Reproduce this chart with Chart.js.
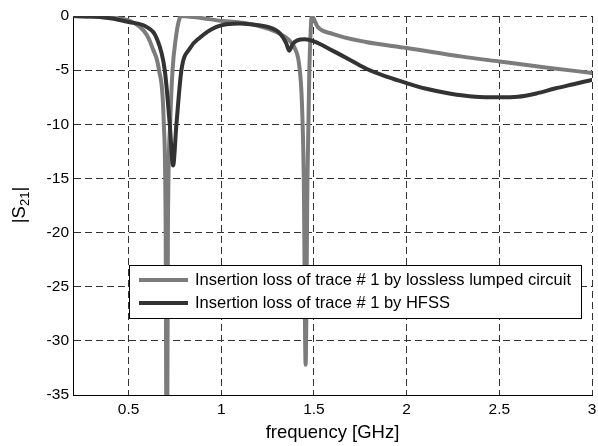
<!DOCTYPE html>
<html>
<head>
<meta charset="utf-8">
<script src="https://cdn.jsdelivr.net/npm/chart.js@4.4.1/dist/chart.umd.min.js"></script>
<style>
  html, body { margin: 0; padding: 0; background: #fff; }
  canvas { display: block; }
</style>
</head>
<body>
<canvas id="s21Chart" width="598" height="446"></canvas>
<script>
// Insertion loss (frequency in GHz, |S21| in dB)
const freqLumped = [0.2, 0.3, 0.4, 0.5, 0.56, 0.6, 0.63, 0.664, 0.69, 0.7, 0.706, 0.712, 0.724, 0.737, 0.755, 0.77, 0.785,
    0.85, 0.9, 1.0, 1.1, 1.2, 1.3, 1.35, 1.38, 1.4, 1.42, 1.435, 1.445, 1.455, 1.465, 1.475, 1.482, 1.488,
    1.52, 1.6, 1.78, 2.0, 2.3, 2.5, 2.75, 3.0];
const s21Lumped = [0, -0.05, -0.15, -0.4, -1, -1.8, -3, -5, -10, -20, -50, -20, -10, -5, -2, -0.5, 0,
    -0.1, -0.2, -0.45, -0.6, -0.9, -1.5, -2, -2.5, -3.1, -4.5, -8, -15, -32.2, -15, -5, -1.5, 0,
    -1.0, -1.65, -2.4, -2.95, -3.75, -4.2, -4.75, -5.26];

const freqHfss = [0.2, 0.3, 0.4, 0.5, 0.596, 0.65, 0.695, 0.722, 0.74, 0.758, 0.785, 0.83, 0.884, 0.974,
    1.1, 1.2, 1.25, 1.316, 1.35, 1.366, 1.385, 1.41, 1.45, 1.5, 1.6, 1.7, 1.78, 1.9,
    2.0, 2.1, 2.23, 2.37, 2.5, 2.6, 2.7, 2.8, 2.9, 3.0];
const s21Hfss = [0, -0.05, -0.2, -0.55, -1, -2, -5, -10, -13.8, -10, -5, -3, -2, -1,
    -0.7, -0.85, -1.0, -1.6, -2.5, -3.2, -2.6, -2.25, -2.15, -2.35, -3.2, -4.1, -4.85, -5.65,
    -6.2, -6.7, -7.15, -7.45, -7.5, -7.45, -7.15, -6.7, -6.3, -5.9];

const xTicks = [0.5, 1, 1.5, 2, 2.5, 3];
const yTicks = [0, -5, -10, -15, -20, -25, -30, -35];

const seriesLabels = [
    'Insertion loss of trace # 1 by lossless lumped circuit',
    'Insertion loss of trace # 1 by HFSS'
];

const FONT = 'Arial, "Liberation Sans", sans-serif';

function toPoints(xs, ys) {
    return xs.map((x, i) => ({ x: x, y: ys[i] }));
}

// axis titles (with subscript) and the boxed legend inside the plot
const decorations = {
    id: 'decorations',
    afterDraw(chart) {
        const ctx = chart.ctx;
        const area = chart.chartArea;
        ctx.save();
        ctx.fillStyle = '#000';

        // x title
        ctx.font = '18.5px ' + FONT;
        ctx.textAlign = 'center';
        ctx.textBaseline = 'middle';
        ctx.fillText('frequency [GHz]', (area.left + area.right) / 2, 433);

        // y title |S21|
        ctx.save();
        ctx.translate(18, 205);
        ctx.rotate(-Math.PI / 2);
        ctx.textBaseline = 'alphabetic';
        ctx.textAlign = 'left';
        const big = '18.5px ' + FONT, small = '13px ' + FONT;
        ctx.font = big;
        const w1 = ctx.measureText('|S').width;
        const w3 = ctx.measureText('|').width;
        ctx.font = small;
        const w2 = ctx.measureText('21').width;
        let x = -(w1 + w2 + w3) / 2;
        ctx.font = big;
        ctx.fillText('|S', x, 7);
        x += w1;
        ctx.font = small;
        ctx.fillText('21', x, 11);
        x += w2;
        ctx.font = big;
        ctx.fillText('|', x, 7);
        ctx.restore();

        // legend
        const lx = 129, ly = 265, lw = 452, lh = 53;
        ctx.fillStyle = '#fff';
        ctx.fillRect(lx, ly, lw, lh);
        ctx.strokeStyle = '#000';
        ctx.lineWidth = 1;
        ctx.strokeRect(lx + 0.5, ly + 0.5, lw, lh);
        ctx.font = '16.5px ' + FONT;
        ctx.textAlign = 'left';
        ctx.textBaseline = 'middle';
        chart.data.datasets.forEach((ds, i) => {
            const y = 280 + i * 23;
            ctx.strokeStyle = ds.borderColor;
            ctx.lineWidth = 4;
            ctx.beginPath();
            ctx.moveTo(139, y);
            ctx.lineTo(188, y);
            ctx.stroke();
            ctx.fillStyle = '#000';
            ctx.fillText(ds.label, 195, y);
        });
        ctx.restore();
    }
};

new Chart(document.getElementById('s21Chart'), {
    type: 'line',
    data: {
        datasets: [{
            label: seriesLabels[0],
            data: toPoints(freqLumped, s21Lumped),
            borderColor: '#7c7c7c',
            borderWidth: 4,
            pointRadius: 0,
            cubicInterpolationMode: 'monotone',
            borderCapStyle: 'round',
            borderJoinStyle: 'round',
            clip: 0,
            order: 2
        }, {
            label: seriesLabels[1],
            data: toPoints(freqHfss, s21Hfss),
            borderColor: '#333333',
            borderWidth: 4,
            pointRadius: 0,
            cubicInterpolationMode: 'monotone',
            borderCapStyle: 'round',
            borderJoinStyle: 'round',
            clip: 0,
            order: 1
        }]
    },
    options: {
        responsive: false,
        animation: false,
        devicePixelRatio: 1,
        layout: { padding: { top: 16, right: 6, left: 0, bottom: 0 } },
        plugins: {
            legend: { display: false },
            tooltip: { enabled: false }
        },
        scales: {
            x: {
                type: 'linear',
                min: 0.2,
                max: 3,
                afterBuildTicks: (scale) => { scale.ticks = xTicks.map(v => ({ value: v })); },
                afterFit: (scale) => {
                    scale.height = 51;
                    scale.paddingLeft = 0;
                    scale.paddingRight = 0;
                },
                ticks: {
                    font: { family: FONT, size: 15.5 },
                    color: '#000',
                    padding: 5,
                    maxRotation: 0,
                    autoSkip: false,
                    callback: (v) => String(v)
                },
                grid: { color: '#333', lineWidth: 1, drawTicks: false },
                border: { display: true, color: '#000', width: 1, dash: [7, 4] }
            },
            y: {
                min: -35,
                max: 0,
                afterBuildTicks: (scale) => { scale.ticks = yTicks.map(v => ({ value: v })); },
                afterFit: (scale) => {
                    scale.width = 73;
                    scale.paddingTop = 0;
                    scale.paddingBottom = 0;
                },
                ticks: {
                    font: { family: FONT, size: 15.5 },
                    color: '#000',
                    padding: 4,
                    autoSkip: false,
                    callback: (v) => String(v)
                },
                grid: { color: '#333', lineWidth: 1, drawTicks: false },
                border: { display: true, color: '#000', width: 1, dash: [7, 4] }
            }
        }
    },
    plugins: [decorations]
});
</script>
</body>
</html>
